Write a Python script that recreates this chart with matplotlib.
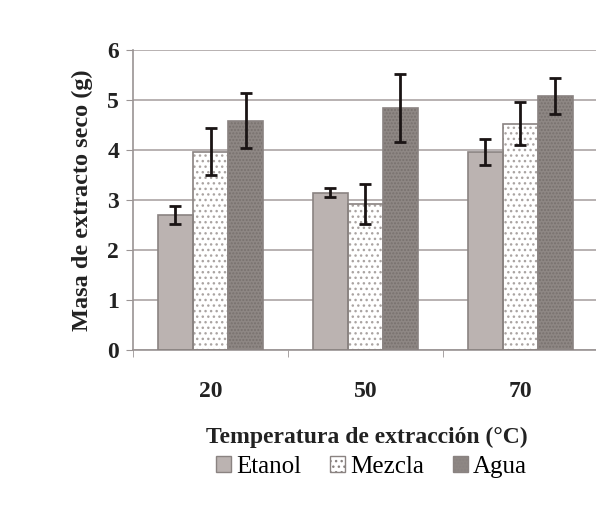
import numpy as np
import matplotlib
matplotlib.use("Agg")
import matplotlib.pyplot as plt
from matplotlib.patches import Patch

categories = ["20", "50", "70"]
series = ["Etanol", "Mezcla", "Agua"]
etanol = [2.70, 3.15, 3.97]
mezcla = [3.97, 2.93, 4.53]
agua = [4.59, 4.85, 5.09]
etanol_err = [0.18, 0.09, 0.26]
mezcla_err = [0.47, 0.40, 0.43]
agua_err = [0.55, 0.68, 0.36]
yticks = [0, 1, 2, 3, 4, 5, 6]

plt.rcParams['font.family'] = ['Liberation Serif', 'DejaVu Serif']
plt.rcParams['hatch.linewidth'] = 1.0

fig = plt.figure(figsize=(5.96, 5.22), dpi=100)
ax = fig.add_axes([0.2232, 0.3295, 0.780, 0.5747])

x = np.arange(len(categories))
w = 0.226
styles = [
    dict(face='#bbb3b1', hatch=None, hcol=None),
    dict(face='#ffffff', hatch='...', hcol='#aaa4a2'),
    dict(face='#8e8784', hatch='.....', hcol='#78716e'),
]
data = [etanol, mezcla, agua]
errs = [etanol_err, mezcla_err, agua_err]
handles = []
for i, (vals, err, st, name) in enumerate(zip(data, errs, styles, series)):
    pos = x + (i - 1) * w
    if st['hatch']:
        ax.bar(pos, vals, w, color=st['face'], hatch=st['hatch'],
               edgecolor=st['hcol'], linewidth=0, zorder=2)
    else:
        ax.bar(pos, vals, w, color=st['face'], linewidth=0, zorder=2)
    ax.bar(pos, vals, w, fill=False, edgecolor='#8a8381', linewidth=1.2, zorder=3)
    ax.errorbar(pos, vals, yerr=err, fmt='none', ecolor='#1a1414',
                elinewidth=2.0, capsize=4, capthick=2.0, zorder=4)
    handles.append(Patch(facecolor=st['face'], edgecolor='#8a8381',
                         hatch=st['hatch'], label=name))

ax.set_xlim(-0.5, 2.5)
ax.set_ylim(0, 6)
ax.set_yticks(yticks)
ax.set_yticklabels([str(t) for t in yticks], fontsize=17, fontweight='bold', color='#222222')
ax.set_xticks(x)
ax.set_xticklabels(categories, fontsize=17, fontweight='bold', color='#222222')
ax.set_xticks([-0.5, 0.5, 1.5, 2.5], minor=True)
ax.tick_params(axis='x', which='major', length=0, pad=22)
ax.tick_params(axis='x', which='minor', length=5, color='#9a9494', direction='out')
ax.tick_params(axis='y', length=5, color='#9a9494', pad=5)
ax.yaxis.grid(True, color='#b2abab', linewidth=1.3, zorder=0)
ax.set_axisbelow(True)
for s in ['top', 'right']:
    ax.spines[s].set_visible(False)
ax.spines['left'].set_color('#9a9494')
ax.spines['bottom'].set_color('#9a9494')
ax.spines['left'].set_linewidth(1.2)
ax.spines['bottom'].set_linewidth(1.2)

ax.set_ylabel("Masa de extracto seco (g)", fontsize=17.5, fontweight='bold',
              color='#222222', labelpad=10)
fig.text(0.616, 0.163, "Temperatura de extracción (°C)", fontsize=17,
         fontweight='bold', color='#222222', ha='center', va='center')
fig.legend(handles=handles, loc='center', bbox_to_anchor=(0.623, 0.106), ncol=3,
           frameon=False, fontsize=18, handlelength=0.6, handleheight=0.6,
           handletextpad=0.2, columnspacing=1.15)

fig.savefig("out.png", dpi=100, facecolor='white')
